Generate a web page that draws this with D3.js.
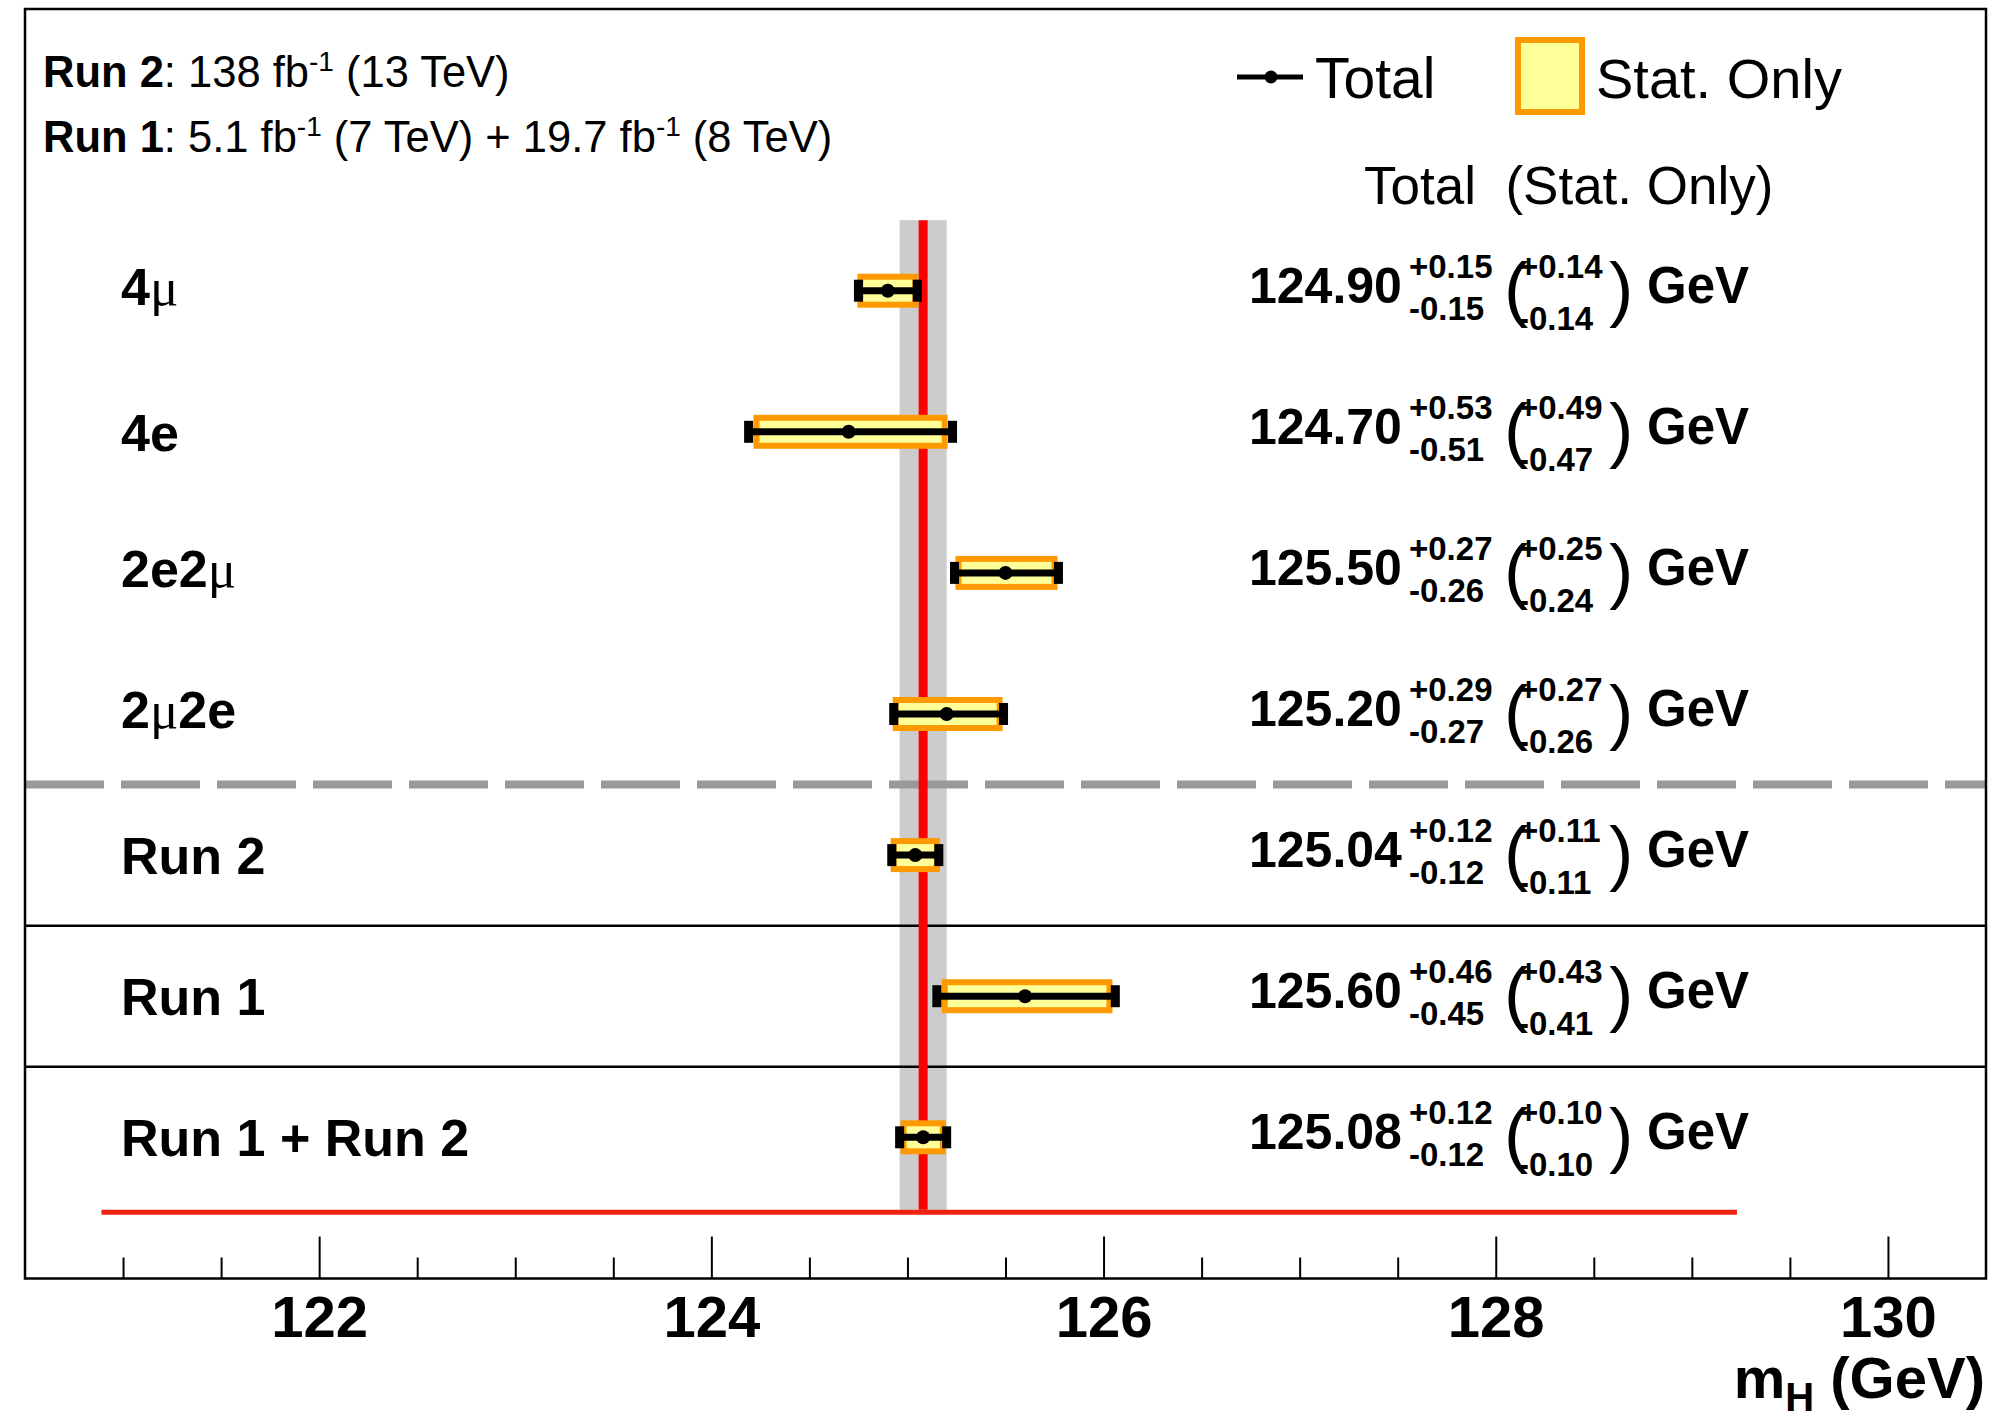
<!DOCTYPE html>
<html><head><meta charset="utf-8">
<script src="https://cdn.jsdelivr.net/npm/d3@7"></script>
<style>
body{margin:0;background:#fff;}
svg text{font-family:"Liberation Sans",Arial,Helvetica,sans-serif;}
</style>
</head><body>
<svg id="c" width="1992" height="1421" xmlns="http://www.w3.org/2000/svg"></svg>
<script>
// ---------------- data ----------------
const categories   = ["4μ", "4e", "2e2μ", "2μ2e", "Run 2", "Run 1", "Run 1 + Run 2"];
const centralValues= [124.90, 124.70, 125.50, 125.20, 125.04, 125.60, 125.08];
const totalUp      = [0.15, 0.53, 0.27, 0.29, 0.12, 0.46, 0.12];
const totalDown    = [0.15, 0.51, 0.26, 0.27, 0.12, 0.45, 0.12];
const statUp       = [0.14, 0.49, 0.25, 0.27, 0.11, 0.43, 0.10];
const statDown     = [0.14, 0.47, 0.24, 0.26, 0.11, 0.41, 0.10];
const majorTicks   = [122, 124, 126, 128, 130];
const minorTicks   = [121, 121.5, 122.5, 123, 123.5, 124.5, 125, 125.5, 126.5, 127, 127.5, 128.5, 129, 129.5];
const xDomain      = [120.5, 130.5];
const combinedIdx  = 6;               // "Run 1 + Run 2" is the reference band
const refLineSpan  = [120.89, 129.23]; // horizontal red line extent (GeV)
const legendItems  = ["Total", "Stat. Only"];
const headerText   = "Total  (Stat. Only)";
const lumiLines = [
  [{t:"Run 2", b:true}, {t:": 138 fb"}, {t:"-1", sup:true}, {t:" (13 TeV)"}],
  [{t:"Run 1", b:true}, {t:": 5.1 fb"}, {t:"-1", sup:true}, {t:" (7 TeV) + 19.7 fb"}, {t:"-1", sup:true}, {t:" (8 TeV)"}]
];

// ---------------- layout ----------------
const svg = d3.select("#c");
const frame = {l:25, r:1986, t:9, b:1278.5};
const x = d3.scaleLinear().domain(xDomain).range([frame.l, frame.r]);
const y = d3.scaleLinear().domain([0, categories.length-1]).range([290.7, 1137.3]);
const comb = centralValues[combinedIdx];

svg.append("rect").attr("width",1992).attr("height",1421).attr("fill","#fff");

// gray band for combined result
svg.append("rect")
  .attr("x", x(comb - totalDown[combinedIdx]))
  .attr("width", x(comb + totalUp[combinedIdx]) - x(comb - totalDown[combinedIdx]))
  .attr("y", y(-0.5)).attr("height", y(6.5) - y(-0.5) + 2)
  .attr("fill", "#cccccc");

// separators
svg.append("line").attr("x1",frame.l).attr("x2",frame.r)
  .attr("y1",y(3.5)).attr("y2",y(3.5))
  .attr("stroke","#999999").attr("stroke-width",8).attr("stroke-dasharray","79,17");
[4.5, 5.5].forEach(v => {
  svg.append("line").attr("x1",frame.l).attr("x2",frame.r)
    .attr("y1",y(v)).attr("y2",y(v))
    .attr("stroke","#000").attr("stroke-width",2.5);
});

// red reference lines
svg.append("line").attr("x1",x(comb)).attr("x2",x(comb))
  .attr("y1",y(-0.5)).attr("y2",y(6.5)+2)
  .attr("stroke","#ff0000").attr("stroke-width",9);
svg.append("line").attr("x1",x(refLineSpan[0])).attr("x2",x(refLineSpan[1]))
  .attr("y1",y(6.5)+4.5).attr("y2",y(6.5)+4.5)
  .attr("stroke","#ee2211").attr("stroke-width",5);

// points
const rows = categories.map((c,i)=>({c, i, v:centralValues[i], tu:totalUp[i], td:totalDown[i], su:statUp[i], sd:statDown[i]}));
const g = svg.append("g").selectAll("g").data(rows).join("g");
g.append("rect")
  .attr("x", d=>x(d.v-d.sd)).attr("width", d=>x(d.v+d.su)-x(d.v-d.sd))
  .attr("y", d=>y(d.i)-14).attr("height",28)
  .attr("fill","#ffff99").attr("stroke","#ff9900").attr("stroke-width",6);
g.append("line")
  .attr("x1", d=>x(d.v-d.td)).attr("x2", d=>x(d.v+d.tu))
  .attr("y1", d=>y(d.i)).attr("y2", d=>y(d.i))
  .attr("stroke","#000").attr("stroke-width",7);
g.append("rect").attr("x", d=>x(d.v-d.td)-4.5).attr("width",9)
  .attr("y", d=>y(d.i)-11).attr("height",22).attr("fill","#000");
g.append("rect").attr("x", d=>x(d.v+d.tu)-4.5).attr("width",9)
  .attr("y", d=>y(d.i)-11).attr("height",22).attr("fill","#000");
g.append("circle").attr("cx", d=>x(d.v)).attr("cy", d=>y(d.i)).attr("r",7).attr("fill","#000");

// category labels
rows.forEach(d => {
  const hasMu = d.c.includes("μ");
  const t = svg.append("text").attr("x",121).attr("y", y(d.i) + (hasMu?14:19))
    .attr("font-size",52).attr("font-weight","bold");
  d.c.split(/(μ)/).filter(s=>s.length).forEach(part => {
    if (part === "μ") t.append("tspan").text("μ").attr("font-family","'Liberation Serif','DejaVu Serif',serif").attr("font-weight","normal").attr("font-size",53);
    else t.append("tspan").text(part);
  });
});

// value texts
const f2 = d3.format(".2f");
rows.forEach(d => {
  const b = y(d.i) + 12;
  const tg = svg.append("g").attr("font-weight","bold");
  tg.append("text").attr("x",1249).attr("y",b).attr("font-size",50).text(f2(d.v));
  tg.append("text").attr("x",1409).attr("y",b-25).attr("font-size",33).text("+"+f2(d.tu));
  tg.append("text").attr("x",1409).attr("y",b+17).attr("font-size",33).text("-"+f2(d.td));
  tg.append("text").attr("x",1504).attr("y",b+10).attr("font-size",73).attr("font-weight","normal").text("(");
  tg.append("text").attr("x",1519).attr("y",b-25).attr("font-size",33).text("+"+f2(d.su));
  tg.append("text").attr("x",1518).attr("y",b+27).attr("font-size",33).text("-"+f2(d.sd));
  tg.append("text").attr("x",1609).attr("y",b+10).attr("font-size",73).attr("font-weight","normal").text(")");
  tg.append("text").attr("x",1647).attr("y",b).attr("font-size",51).text("GeV");
});

// header
svg.append("text").attr("x",1364).attr("y",204).attr("font-size",53)
  .attr("xml:space","preserve").style("white-space","pre").text(headerText);

// legend
svg.append("line").attr("x1",1237).attr("x2",1303).attr("y1",77).attr("y2",77)
  .attr("stroke","#000").attr("stroke-width",5);
svg.append("circle").attr("cx",1271).attr("cy",77).attr("r",6.5).attr("fill","#000");
svg.append("text").attr("x",1315).attr("y",98).attr("font-size",57).text(legendItems[0]);
svg.append("rect").attr("x",1518).attr("y",40).attr("width",64).attr("height",72)
  .attr("fill","#ffff99").attr("stroke","#ff9900").attr("stroke-width",6);
svg.append("text").attr("x",1596).attr("y",98).attr("font-size",56).text(legendItems[1]);

// lumi lines
lumiLines.forEach((line, li) => {
  const t = svg.append("text").attr("x",43).attr("y", 87 + li*65).attr("font-size",43.5);
  let raised = false;
  line.forEach(p => {
    const s = t.append("tspan").text(p.t);
    if (p.b) s.attr("font-weight","bold");
    if (p.sup) { s.attr("font-size",28).attr("dy",-16); raised = true; }
    else if (raised) { s.attr("dy",16); raised = false; }
  });
});

// axes
const ax = svg.append("g").attr("transform",`translate(0,${frame.b})`)
  .call(d3.axisBottom(x).tickValues(majorTicks).tickSize(-42).tickFormat(d3.format("d")));
ax.select(".domain").remove();
ax.selectAll(".tick line").attr("stroke","#000").attr("stroke-width",2);
ax.selectAll(".tick text").attr("y",58.5).attr("dy",0).attr("fill","#000")
  .attr("font-size",58).attr("font-weight","bold")
  .attr("font-family","'Liberation Sans',Arial,sans-serif");
const axm = svg.append("g").attr("transform",`translate(0,${frame.b})`)
  .call(d3.axisBottom(x).tickValues(minorTicks).tickSize(-21).tickFormat(""));
axm.select(".domain").remove();
axm.selectAll(".tick line").attr("stroke","#000").attr("stroke-width",2);

// axis title
const at = svg.append("text").attr("x",1985).attr("y",1398).attr("text-anchor","end")
  .attr("font-size",58).attr("font-weight","bold");
at.append("tspan").text("m");
at.append("tspan").text("H").attr("font-size",40).attr("dy",13);
at.append("tspan").text(" (GeV)").attr("dy",-13);

// frame
svg.append("rect").attr("x",frame.l).attr("y",frame.t)
  .attr("width",frame.r-frame.l).attr("height",frame.b-frame.t)
  .attr("fill","none").attr("stroke","#000").attr("stroke-width",2.5);
</script>
</body></html>
